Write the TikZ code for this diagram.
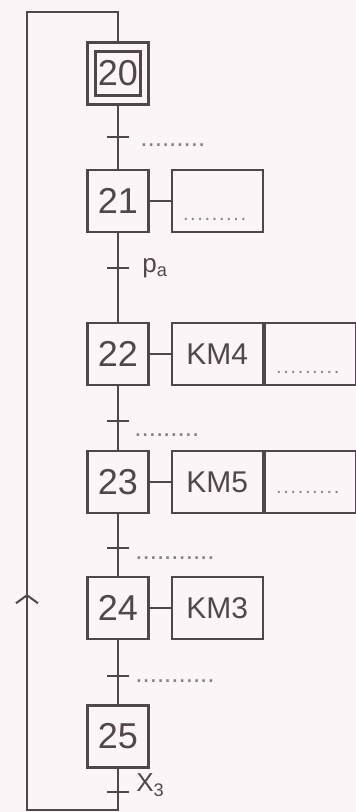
\documentclass[tikz,border=0pt]{standalone}
\usepackage{fontspec}
\setmainfont{Liberation Sans}
\usetikzlibrary{arrows.meta,positioning,calc}
\definecolor{paper}{RGB}{252,245,247}
\definecolor{ink}{RGB}{82,70,77}
\definecolor{dotgray}{RGB}{140,125,135}
\newcommand{\pointilles}[1][35pt]{\textcolor{dotgray}{\makebox[#1]{\leaders\hbox to 3.6pt{\hss.\hss}\hfill}}}
\tikzset{
  etape/.style={draw=ink, line width=1.1pt, minimum width=30.5pt, minimum height=31pt, inner sep=0pt, text=ink, font=\fontsize{18}{20}\selectfont},
  action/.style={draw=ink, line width=1.1pt, minimum width=45.5pt, minimum height=31pt, inner sep=0pt, text=ink, font=\fontsize{15}{17}\selectfont},
  lien/.style={draw=ink, line width=1pt},
  cond/.style={anchor=west, inner sep=0pt, text=ink, font=\fontsize{13}{15}\selectfont},
  trou/.style={anchor=south, inner sep=0pt}
}

\begin{document}
\begin{tikzpicture}[x=0.5pt, y=-0.5pt]
  \fill[paper] (0,0) rectangle (356,812);
  \useasboundingbox (0,0) rectangle (356,812);

  % etapes
  \node[etape] (s20) at (118,73.5) {};
  \node[etape, minimum width=22.5pt, minimum height=22pt] (s20i) at (s20) {20};
  \node[etape, below=31.5pt of s20] (s21) {21};
  \node[etape, below=44.5pt of s21] (s22) {22};
  \node[etape, below=32pt of s22] (s23) {23};
  \node[etape, below=31pt of s23] (s24) {24};
  \node[etape, below=32pt of s24] (s25) {25};

  % actions
  \node[action, right=10.5pt of s21] (a21) {};
  \node[trou] (d21) at ([yshift=6pt]a21.south) {\pointilles};
  \node[action, right=10.5pt of s22] (a22) {KM4};
  \node[action, right=0pt of a22] (b22) {};
  \node[trou] (d22) at ([yshift=6pt]b22.south) {\pointilles};
  \node[action, right=10.5pt of s23] (a23) {KM5};
  \node[action, right=0pt of a23] (b23) {};
  \node[trou] (d23) at ([yshift=10pt]b23.south) {\pointilles};
  \node[action, right=10.5pt of s24] (a24) {KM3};
  \foreach \s in {21,22,23,24}
    \draw[lien] (s\s) -- (a\s);

  % liaisons
  \foreach \a/\b in {20/21,21/22,22/23,23/24,24/25}
    \draw[lien] (s\a) -- (s\b);

  % transitions
  \coordinate (t1) at ($(s20.south)!0.5!(s21.north)$);
  \coordinate (t2) at ($(s21.south)!0.4!(s22.north)$);
  \coordinate (t3) at ($(s22.south)!0.55!(s23.north)$);
  \coordinate (t4) at ($(s23.south)!0.55!(s24.north)$);
  \coordinate (t5) at ($(s24.south)!0.55!(s25.north)$);
  \coordinate (t6) at (118,792);
  \foreach \t in {1,...,6}
    \draw[lien] ([xshift=-5.5pt]t\t) -- ([xshift=5.5pt]t\t);

  \node[cond] (c1) at ([xshift=11pt, yshift=-4pt]t1) {\pointilles};
  \node[cond] (c2) at ([xshift=12pt]t2) {p\textsubscript{a}};
  \node[cond] (c3) at ([xshift=8pt, yshift=-7pt]t3) {\pointilles};
  \node[cond] (c4) at ([xshift=8.5pt, yshift=-5pt]t4) {\pointilles[41pt]};
  \node[cond] (c5) at ([xshift=8.5pt, yshift=-3pt]t5) {\pointilles[42pt]};
  \node[cond] (c6) at ([xshift=9pt, yshift=3.5pt]t6) {X\textsubscript{3}};

  % renvoi vers l'etape initiale
  \coordinate (bd) at (118,810);
  \coordinate (bg) at (27,810);
  \coordinate (hg) at (27,12);
  \coordinate (hd) at (118,12);
  \coordinate (fl) at (27,594);
  \draw[lien] (s25.south) -- (bd) -- (bg) -- (hg) -- (hd) -- (s20.north);
  \draw[lien, -{Straight Barb[length=4pt, width=11pt]}] (bg) -- (fl);
\end{tikzpicture}
\end{document}
